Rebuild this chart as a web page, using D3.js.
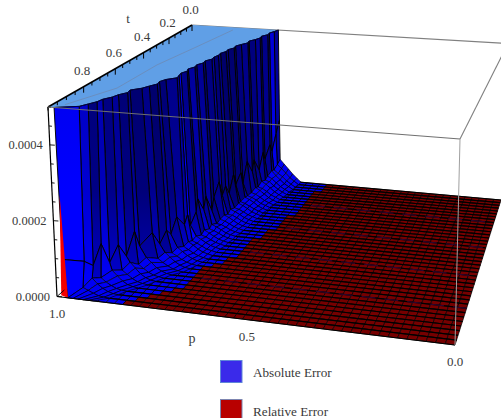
<!DOCTYPE html>
<html><head><meta charset="utf-8">
<script src="https://cdnjs.cloudflare.com/ajax/libs/d3/7.8.5/d3.min.js"></script>
<style>html,body{margin:0;padding:0;background:#fff;overflow:hidden}svg{display:block}text{font-family:"Liberation Serif",serif;fill:#3a3a3a}</style>
</head><body><div id="chart"></div>
<script>
// ---------- data ----------
const tTicks = [0, 0.2, 0.4, 0.6, 0.8];
const tMinor = [0.05,0.1,0.15,0.25,0.3,0.35,0.45,0.5,0.55,0.65,0.7,0.75,0.85,0.9,0.95,1];
const zTicks = [0, 0.0002, 0.0004];
const zMinor = [0.00005,0.0001,0.00015,0.00025,0.0003,0.00035,0.00045,0.0005];
const pTicks = [1, 0.5, 0];
const legendNames = ["Absolute Error", "Relative Error"];
const legendColors = ["#3a2aea", "#b80000"];
const zMax = 0.0005;
const nP = 45, nT = 40;
// last blue floor column in each t row (counted from p = 1)
const blueBound = [20,20,20,19,19,19,19,19,19,19,19,19,18,18,18,18,18,17,17,17,16,16,16,16,16,16,15,15,14,13,13,13,13,13,13,12,11,10,9,8];
// each t row: distance from p=1 (x1000) where wall leaves the cap, mid node, mid height (1e-5),
// wall foot, foot height, then four ramp heights
const wallRows = [
[286,287,20,288,7,5.5,4,2.5,1.2],
[280,282,16,286,6,4.8,3.4,2,1],
[272,276,11,282,5,4,3,1.8,.8],
[274,277,14,282,5.5,4,2.8,1.6,.8],
[262,268,10,276,4.5,3.8,2.6,1.5,.7],
[265,270,13,276,4,3.6,2.4,1.4,.6],
[258,264,8,272,4.4,3.6,2.5,1.4,.6],
[246,256,12,268,3.4,3,2.2,1.2,.6],
[250,258,9,268,4,3.2,2.2,1.2,.5],
[238,250,13,262,3.2,2.8,2,1.1,.5],
[228,244,7,258,3,2.6,1.9,1,.5],
[232,246,11,258,3.4,2.8,2,1,.4],
[222,238,8,252,2.8,2.4,1.7,1,.4],
[224,240,12,254,3.2,2.6,1.8,.9,.4],
[216,234,7,250,2.6,2.3,1.6,.9,.4],
[218,232,10,246,3,2.4,1.7,.9,.4],
[214,230,8,246,2.4,2.2,1.6,.8,.3],
[216,230,13,244,3,2.4,1.6,.8,.3],
[205,222,9,240,2.6,2.2,1.5,.8,.3],
[208,224,6,238,2.2,2,1.4,.7,.3],
[198,216,11,232,2.8,2.2,1.5,.7,.3],
[202,218,8,234,2.4,2,1.4,.7,.3],
[192,210,12,228,3,2.2,1.4,.7,.3],
[198,214,9,228,2.4,2,1.3,.7,.3],
[190,206,6,222,3,2.2,1.4,.7,.3],
[194,208,10,220,2.6,2,1.3,.6,.3],
[198,208,8,218,3.2,2.4,1.4,.7,.3],
[176,196,11,214,2.8,2,1.2,.6,.2],
[168,188,7,206,3.4,2.4,1.4,.7,.2],
[172,186,9,200,2.8,2,1.2,.6,.2],
[160,176,6,190,3.8,2.6,1.5,.7,.2],
[150,166,10,180,3,2,1.2,.5,.2],
[128,140,7,158,4,2.8,1.5,.7,.2],
[132,138,12,146,3,2,1.1,.5,.2],
[118,124,6,134,4.4,3,1.6,.7,.2],
[112,114,10,122,3.2,2.2,1.2,.5,.2],
[98,100,6,106,4,2.6,1.4,.6,.2],
[94,90,12,86,2.8,1.8,1,.4,.1],
[82,78,7,74,3.6,2.2,1.2,.5,.1],
[70,66,9,60,2,1.4,.8,.3,.1],
[16,20,10,30,0,0,0,0,0]
];
// blue channel of each wall strip, back to front
const wallShade = [150,215,125,135,115,145,125,105,135,120,150,110,130,105,140,115,160,125,110,145,125,155,115,135,230,150,135,115,135,105,130,110,135,115,145,125,170,120,190,232];
// faint line across the clipped plateau: [t, distance from p=1]
const ridge = [[0.037,0.149],[0.3,0.12],[0.53,0.093],[0.79,0.088],[0.97,0.03]];
// relative error sliver on the front edge: [distance from p=1, height 1e-5]
const redSliver = [[0.02,27],[0.03,0],[0.012,0.5]];
// faint streak rows in the red floor
const streakT = [0.2,0.4,0.6,0.8];

// ---------- projection ----------
const W = 501, H = 418;
function homography(P0,P1,P2,P3){
  const dx1=P1[0]-P2[0],dx2=P3[0]-P2[0],sx=P0[0]-P1[0]+P2[0]-P3[0];
  const dy1=P1[1]-P2[1],dy2=P3[1]-P2[1],sy=P0[1]-P1[1]+P2[1]-P3[1];
  const det=dx1*dy2-dx2*dy1;
  const g=(sx*dy2-dx2*sy)/det,h=(dx1*sy-sx*dy1)/det;
  const a=P1[0]-P0[0]+g*P1[0],b=P3[0]-P0[0]+h*P3[0],c=P0[0];
  const d=P1[1]-P0[1]+g*P1[1],e=P3[1]-P0[1]+h*P3[1],f=P0[1];
  return (u,v)=>{const w=g*u+h*v+1;return [(a*u+b*v+c)/w,(d*u+e*v+f)/w];};
}
const floorH = homography([197,173],[501,200],[455,345],[57,296.5]);
const topH   = homography([192,25],[508,43.5],[460,139],[48,107]);
const pToU = d3.scaleLinear().domain([1,0]).range([0,1]);
const zToK = d3.scaleLinear().domain([0,zMax]).range([0,1]);
function proj(u,t,z){
  const a=floorH(u,t),b=topH(u,t),k=zToK(z);
  return [a[0]+(b[0]-a[0])*k,a[1]+(b[1]-a[1])*k];
}
const line = d3.line();
const svg = d3.select("#chart").append("svg").attr("width",W).attr("height",H).attr("viewBox",[0,0,W,H]);
const quad = (g,pts,fill,sw)=>g.append("path").attr("d",line(pts)+"Z").attr("fill",fill).attr("stroke","#000").attr("stroke-width",sw).attr("stroke-linejoin","round");

// one vertical gradient per wall strip: darker high up, brighter toward the foot
const defs = svg.append("defs");
wallShade.forEach((s,i)=>{
  const g=defs.append("linearGradient").attr("id","strip"+i).attr("gradientUnits","userSpaceOnUse")
    .attr("x1",0).attr("x2",0).attr("y1",40).attr("y2",290);
  g.append("stop").attr("offset",0).attr("stop-color",d3.rgb(0,0,s));
  g.append("stop").attr("offset",0.6).attr("stop-color",d3.rgb(0,0,Math.min(255,s*1.1)));
  g.append("stop").attr("offset",1).attr("stop-color",d3.rgb(0,0,Math.min(255,s*1.7)));
});

// ---------- back faces of the box ----------
const box = svg.append("g").attr("fill","none").attr("stroke","#808080").attr("stroke-width",1.1);
box.append("path").attr("d",line([proj(0,0,zMax),proj(1,0,zMax)]));
box.append("path").attr("d",line([proj(1,1,zMax),proj(1,0,zMax)]));

// ---------- floor ----------
const floorG = svg.append("g");
const footCol = i => Math.floor(wallRows[Math.min(i+1,nT)][3]/1000*nP);
d3.range(nT).forEach(i=>{
  const t0=i/nT,t1=(i+1)/nT;
  d3.range(footCol(i),nP).forEach(j=>{
    const u0=j/nP,u1=(j+1)/nP,blue=j<blueBound[i];
    floorG.append("path").attr("d",line([proj(u0,t0,0),proj(u1,t0,0),proj(u1,t1,0),proj(u0,t1,0)])+"Z")
      .attr("fill",blue?"#0000f0":"#760000").attr("stroke","#000").attr("stroke-width",0.7);
  });
  floorG.append("path").attr("d",line([proj(footCol(i)/nP,t0,0),proj(1,t0,0)])).attr("stroke","#000").attr("stroke-width",1.15).attr("fill","none");
});
streakT.forEach(t=>{
  const i=Math.round(t*nT);
  floorG.append("path").attr("d",line([proj((blueBound[i]+1)/nP,t,0),proj(1,t,0)]))
    .attr("stroke","#6a1070").attr("stroke-width",0.9).attr("stroke-dasharray","14 9").attr("stroke-opacity",0.5).attr("fill","none");
});

// ---------- plateau where the surface is clipped ----------
const rowT = i => i/nT;
const plateau = [proj(0,0,zMax)].concat(wallRows.map((r,i)=>proj(r[0]/1000,rowT(i),zMax))).concat([proj(0,1,zMax)]);
svg.append("path").attr("d",line(plateau)+"Z").attr("fill","#609fe6").attr("stroke","none");
svg.append("path").attr("d",line(ridge.map(d=>proj(d[1],d[0],zMax)))).attr("fill","none").attr("stroke","#6f86ad").attr("stroke-width",0.7);

// ---------- wall, back rows first ----------
const rampStep = 0.014;
function nodes(i){
  const r=wallRows[i],t=rowT(i),n=[proj(r[0]/1000,t,zMax),proj(r[1]/1000,t,r[2]*1e-5),proj(r[3]/1000,t,r[4]*1e-5)];
  [5,6,7,8].forEach((c,k)=>n.push(proj(r[3]/1000+rampStep*(k+1),t,r[c]*1e-5)));
  n.push(proj(r[3]/1000+rampStep*5,t,0));
  return n;
}
const wallG = svg.append("g");
d3.range(nT).forEach(i=>{
  const a=nodes(i),b=nodes(i+1);
  d3.range(a.length-1).forEach(k=>{
    const fill=k<2?`url(#strip${i})`:"#0000f4";
    quad(wallG,[a[k],a[k+1],b[k+1],b[k]],fill,k<2?0.95:0.65);
  });
});
// jagged upper edge of the wall
svg.append("path").attr("d",line(wallRows.map((r,i)=>proj(r[0]/1000,rowT(i),zMax)))).attr("fill","none").attr("stroke","#00004a").attr("stroke-width",0.9);
svg.append("path").attr("d",line(redSliver.map(d=>proj(d[0],1,d[1]*1e-5)))+"Z").attr("fill","#f50000");

// ---------- axes and the front of the box ----------
const axes = svg.append("g").attr("fill","none").attr("stroke","#000");
const frontBox = svg.append("g").attr("fill","none").attr("stroke","#707070").attr("stroke-width",1.2);
frontBox.append("path").attr("d",line([proj(0,1,zMax),proj(1,1,zMax)]));
frontBox.append("path").attr("d",line([proj(1,1,zMax),proj(1,1,0)])).attr("stroke","#a0a0a0").attr("stroke-width",1);
axes.append("path").attr("d",line([proj(0,0,zMax),proj(0,1,zMax)])).attr("stroke-width",1.5);
axes.append("path").attr("d",line([proj(0,1,zMax),proj(0,1,0)])).attr("stroke-width",1.2);
axes.append("path").attr("d",line([proj(0,1,0),proj(1,1,0)])).attr("stroke-width",1.2);
axes.append("path").attr("d",line([proj(0,1,0),proj(0,0.96,0)])).attr("stroke-width",0.9);
tTicks.concat(tMinor).forEach(t=>{
  const c=proj(0,t,zMax),len=tTicks.includes(t)?6:3.5;
  axes.append("path").attr("d",line([c,[c[0],c[1]+len]])).attr("stroke-width",1);
});
zTicks.concat(zMinor).forEach(z=>{
  const c=proj(0,1,z),len=zTicks.includes(z)?5:3;
  axes.append("path").attr("d",line([c,[c[0]+len,c[1]+0.3]])).attr("stroke-width",0.9);
});

// ---------- labels ----------
const label=(x,y,s,anchor="middle",size=12.5)=>svg.append("text").attr("x",x).attr("y",y).attr("text-anchor",anchor).attr("font-size",size).text(s);
tTicks.forEach(t=>{const c=proj(0,t,zMax);label(c[0]-1.5,c[1]-11.5,t.toFixed(1),"middle",13);});
label(128,23,"t","middle",13);
zTicks.forEach(z=>{const c=proj(0,1,z);label(c[0]-7,c[1]+4,z.toFixed(4),"end");});
pTicks.forEach(p=>{const c=proj(pToU(p),1,0);label(c[0],c[1]+21,p.toFixed(1),"middle",13);});
label(192,343,"p","middle",14);

// ---------- legend ----------
const legendY=d3.scalePoint().domain(legendNames).range([360,399]);
legendNames.forEach((n,i)=>{
  svg.append("rect").attr("x",220.5).attr("y",legendY(n)+0.5).attr("width",21.5).attr("height",22)
    .attr("fill",legendColors[i]).attr("stroke",i?"#7d85b0":"#5f86d8").attr("stroke-width",1);
  label(253,legendY(n)+17,n,"start",13.2);
});
</script></body></html>
